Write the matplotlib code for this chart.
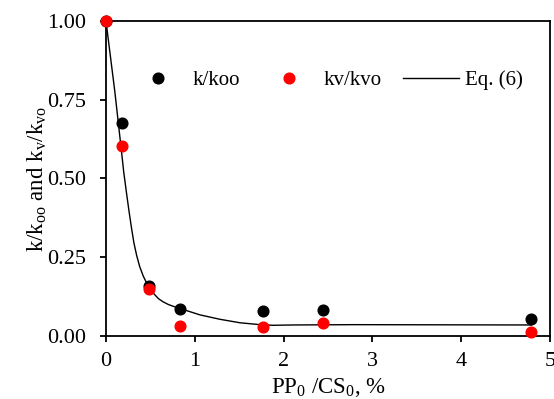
import matplotlib
matplotlib.use("Agg")
import matplotlib.pyplot as plt

plt.rcParams["font.family"] = ["Liberation Serif", "DejaVu Serif"]
plt.rcParams["mathtext.fontset"] = "custom"
plt.rcParams["mathtext.rm"] = "Liberation Serif"

# PP0/CS0 (%) for the measurements
ratio = [0.0, 0.18, 0.48, 0.83, 1.77, 2.44, 4.79]
k_koo = [1.0, 0.676, 0.160, 0.087, 0.079, 0.084, 0.053]
kv_kvo = [1.0, 0.604, 0.150, 0.032, 0.027, 0.040, 0.012]

# Eq. (6) curve
eq_x = [0.0, 0.10, 0.177, 0.20, 0.233, 0.26, 0.289, 0.315, 0.346, 0.38, 0.42,
        0.46, 0.495, 0.54, 0.589, 0.64, 0.702, 0.76, 0.826, 1.059, 1.284,
        1.509, 1.734, 1.88, 2.11, 2.79, 4.79]
eq_y = [1.0, 0.775, 0.58, 0.52, 0.45, 0.395, 0.34, 0.295, 0.255, 0.22, 0.19,
        0.167, 0.151, 0.134, 0.119, 0.109, 0.100, 0.094, 0.088, 0.067, 0.053,
        0.042, 0.036, 0.034, 0.035, 0.036, 0.035]

fig = plt.figure(figsize=(5.54, 3.99), dpi=100)
ax = fig.add_axes([0.1913, 0.1579, 0.8015, 0.7895])

ax.plot(ratio, k_koo, "o", color="black", markersize=7.7, label="k/koo",
        clip_on=False, zorder=4)
ax.plot(ratio, kv_kvo, "o", color="#ff0000", markersize=7.7, label="kv/kvo",
        clip_on=False, zorder=5)
ax.plot(eq_x, eq_y, "-", color="black", linewidth=1.0, label="Eq. (6)", zorder=3)

ax.set_xlim(0, 5)
ax.set_ylim(0, 1)
ax.set_xticks([0, 1, 2, 3, 4, 5])
ax.set_yticks([0, 0.25, 0.5, 0.75, 1.0])
ax.set_yticklabels(["0.00", "0.25", "0.50", "0.75", "1.00"])

for s in ax.spines.values():
    s.set_linewidth(1.3)
ax.tick_params(axis="both", direction="out", length=4.3, width=1.3,
               labelsize=16, colors="black")
ax.tick_params(axis="y", pad=10)
ax.tick_params(axis="x", pad=7)

ax.set_xlabel(r"PP$_\mathregular{0}$ /CS$_\mathregular{0}$, %", fontsize=16.5, labelpad=3.5)
ax.set_ylabel(r"k/k$_\mathregular{oo}$ and k$_\mathregular{v}$/k$_\mathregular{vo}$",
              fontsize=16.5, labelpad=-1)

ax.legend(loc="center left", bbox_to_anchor=(0.055, 0.812), ncol=3, frameon=False,
          fontsize=15, handlelength=2.68, handletextpad=0.32, columnspacing=1.0,
          borderpad=0, borderaxespad=0)

fig.savefig("out.png", dpi=100)
